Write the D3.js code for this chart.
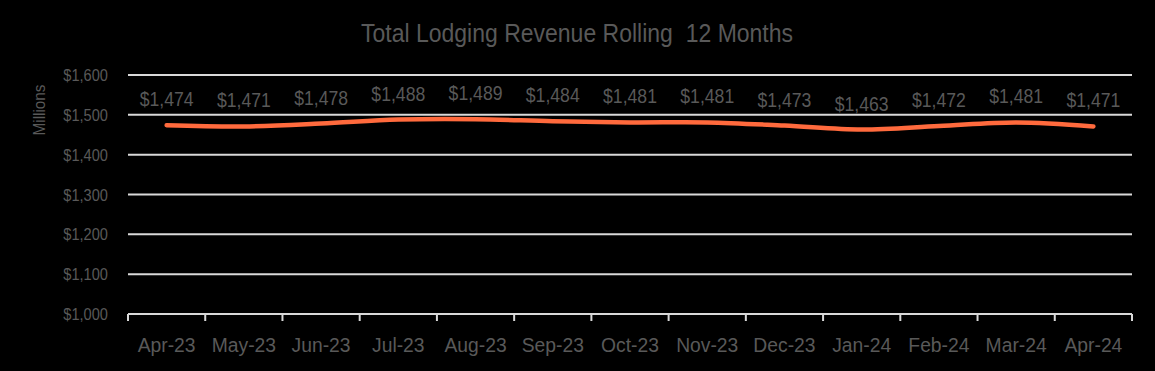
<!DOCTYPE html>
<html><head><meta charset="utf-8">
<script src="https://cdn.jsdelivr.net/npm/d3@7"></script>
<style>html,body{margin:0;padding:0;background:#000;}svg{display:block;}</style>
</head><body>
<script>
const categories = ["Apr-23","May-23","Jun-23","Jul-23","Aug-23","Sep-23","Oct-23","Nov-23","Dec-23","Jan-24","Feb-24","Mar-24","Apr-24"];
const revenue = [1474,1471,1478,1488,1489,1484,1481,1481,1473,1463,1472,1481,1471];
const yTicks = [1000,1100,1200,1300,1400,1500,1600];

const W = 1155, H = 371;
const m = {left:128, right:23, top:75, bottom:57};
const font = "'Liberation Sans',Arial,sans-serif";
const grey = "#595959";
const svg = d3.select("body").append("svg").attr("width",W).attr("height",H).style("background","#000");

const x = d3.scaleBand().domain(categories).range([m.left, W-m.right]).padding(0);
const y = d3.scaleLinear().domain([1000,1600]).range([H-m.bottom, m.top]);
const fmt = d=>"$"+d3.format(",")(d);

// gridlines
svg.append("g").selectAll("line").data(yTicks.filter(d=>d>1000)).join("line")
  .attr("x1",m.left).attr("x2",W-m.right).attr("y1",d=>y(d)).attr("y2",d=>y(d))
  .attr("stroke","#d9d9d9").attr("stroke-width",2);

// y axis labels (condensed look)
svg.append("g").selectAll("text").data(yTicks).join("text")
  .attr("transform",d=>`translate(${m.left-20},${y(d)+6}) scale(0.86,1)`)
  .attr("text-anchor","end").attr("fill",grey)
  .style("font-family",font).style("font-size","17px").text(fmt);

// x axis
const xb = svg.append("g").attr("transform",`translate(0,${y(1000)})`);
xb.append("line").attr("x1",m.left).attr("x2",W-m.right).attr("stroke","#d9d9d9").attr("stroke-width",2);
const bounds = categories.map(c=>x(c)).concat([x(categories[categories.length-1])+x.bandwidth()]);
xb.selectAll("line.t").data(bounds).join("line").attr("class","t")
  .attr("x1",d=>d).attr("x2",d=>d).attr("y1",0).attr("y2",7)
  .attr("stroke","#d9d9d9").attr("stroke-width",2);
xb.selectAll("text").data(categories).join("text")
  .attr("transform",d=>`translate(${x(d)+x.bandwidth()/2},38) scale(0.92,1)`)
  .attr("text-anchor","middle").attr("fill",grey)
  .style("font-family",font).style("font-size","21px").text(d=>d);

// Millions
svg.append("text").attr("transform",`translate(45,110) rotate(-90) scale(0.9,1)`).attr("text-anchor","middle")
  .attr("fill",grey).style("font-family",font).style("font-size","17px").text("Millions");

// title
svg.append("text").attr("transform",`translate(577,42) scale(0.92,1)`).attr("text-anchor","middle").attr("fill",grey)
  .style("font-family",font).style("font-size","25px").text("Total Lodging Revenue Rolling  12 Months").attr("xml:space","preserve").style("white-space","pre");

// line
const line = d3.line().x((d,i)=>x(categories[i])+x.bandwidth()/2).y(d=>y(d)).curve(d3.curveCatmullRom.alpha(0.5));
svg.append("path").datum(revenue).attr("d",line).attr("fill","none")
  .attr("stroke","#FF6A3D").attr("stroke-width",4.5).attr("stroke-linecap","round");

// labels
svg.append("g").selectAll("text").data(revenue).join("text")
  .attr("transform",(d,i)=>`translate(${x(categories[i])+x.bandwidth()/2},${y(d)-19}) scale(0.84,1)`)
  .attr("text-anchor","middle").attr("fill",grey)
  .style("font-family",font).style("font-size","21px").text(fmt);
</script>
</body></html>
